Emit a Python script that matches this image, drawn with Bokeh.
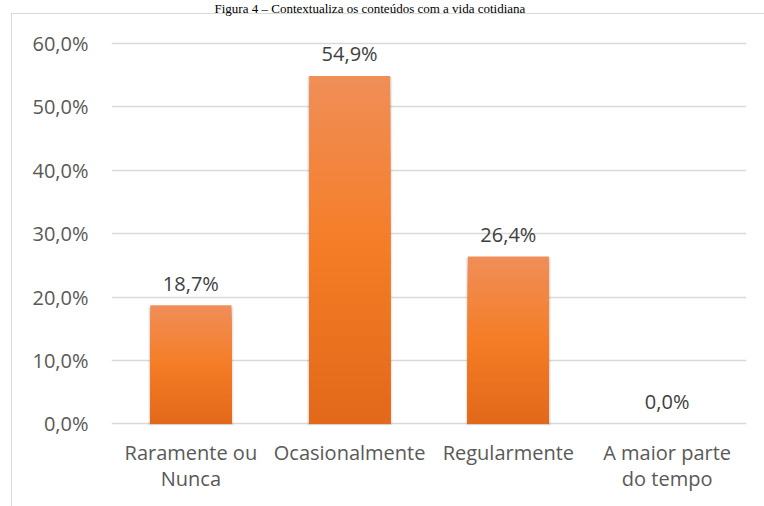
from bokeh.plotting import figure
from bokeh.models import FactorRange, Range1d, FixedTicker, ColumnDataSource, Label
from bokeh.embed import file_html
from bokeh.resources import INLINE
from bokeh.core.properties import value

# ---------------- data ----------------
title_text = "Figura 4 – Contextualiza os conteúdos com a vida cotidiana"
categories = ["Raramente ou\nNunca", "Ocasionalmente", "Regularmente", "A maior parte\ndo tempo"]
percentages = [18.7, 54.9, 26.4, 0.0]
y_ticks = [0, 10, 20, 30, 40, 50, 60]
y_tick_labels = ["0,0%", "10,0%", "20,0%", "30,0%", "40,0%", "50,0%", "60,0%"]

# ---------------- styles ----------------
FONT = "Open Sans"
AXIS_TEXT = "#595959"
LABEL_TEXT = "#404040"
GRID = "#d9d9d9"
BAR_W = 0.51
stops = [(0.0, (225, 104, 25)), (0.5, (245, 125, 38)), (1.0, (240, 142, 88))]


def grad_color(f):
    for (f0, c0), (f1, c1) in zip(stops[:-1], stops[1:]):
        if f0 <= f <= f1:
            t = (f - f0) / (f1 - f0)
            c = [round(a + (b - a) * t) for a, b in zip(c0, c1)]
            return "#%02x%02x%02x" % tuple(c)
    return "#%02x%02x%02x" % stops[-1][1]


p = figure(width=764, height=506,
           x_range=FactorRange(factors=categories),
           y_range=Range1d(-0.25, 66.79),
           output_backend="svg", toolbar_location=None,
           min_border_left=111, min_border_right=18,
           min_border_top=0, min_border_bottom=81)
p.outline_line_color = None
p.background_fill_color = None
p.border_fill_color = None
# chart-area border (left and top edges visible in the crop)
p.styles = {
    "background-color": "white",
    "background-image": "linear-gradient(#d9d9d9, #d9d9d9), linear-gradient(#d9d9d9, #d9d9d9)",
    "background-size": "1px 100%, 100% 1px",
    "background-position": "11px 13px, 11px 13px",
    "background-repeat": "no-repeat",
}

# axes
p.yaxis.ticker = FixedTicker(ticks=y_ticks)
p.yaxis.major_label_overrides = {t: l for t, l in zip(y_ticks, y_tick_labels)}
p.yaxis.axis_line_color = None
p.yaxis.major_tick_line_color = None
p.yaxis.minor_tick_line_color = None
p.yaxis.major_tick_out = 0
p.yaxis.major_tick_in = 0
p.yaxis.major_label_standoff = 23
p.yaxis.major_label_text_font = FONT
p.yaxis.major_label_text_font_size = "20px"
p.yaxis.major_label_text_color = AXIS_TEXT

p.xaxis.axis_line_color = None
p.xaxis.major_tick_line_color = None
p.xaxis.major_tick_out = 0
p.xaxis.major_tick_in = 0
p.xaxis.major_label_standoff = 13
p.xaxis.major_label_text_font = FONT
p.xaxis.major_label_text_font_size = "20px"
p.xaxis.major_label_text_color = AXIS_TEXT
p.xaxis.major_label_text_line_height = 0.99

p.xgrid.visible = False
p.ygrid.ticker = FixedTicker(ticks=y_ticks)
p.ygrid.grid_line_color = GRID
p.ygrid.grid_line_width = 1.3

# shadows
sh_x = [c for c, v in zip(categories, percentages) if v > 0]
sh_top = [v - 0.15 for v in percentages if v > 0]
p.vbar(x=sh_x, top=sh_top, bottom=-0.5, width=BAR_W + 0.028,
       fill_color="black", fill_alpha=0.06, line_color=None)
p.vbar(x=sh_x, top=sh_top, bottom=-0.3, width=BAR_W + 0.014,
       fill_color="black", fill_alpha=0.08, line_color=None)

# gradient bars: cumulative layers drawn tallest first, so no seams show
N = 40
gx, gt, gc = [], [], []
for i in reversed(range(N)):
    for c, v in zip(categories, percentages):
        if v <= 0:
            continue
        gx.append(c)
        gt.append(v * (i + 1) / N)
        gc.append(grad_color((i + 0.5) / N))
p.vbar(x=gx, bottom=0, top=gt, width=BAR_W, fill_color=gc, line_color=None)

# data labels
lab_src = ColumnDataSource(dict(
    x=categories, y=percentages,
    text=[("%.1f" % v).replace(".", ",") + "%" for v in percentages]))
p.text(x="x", y="y", text="text", source=lab_src, text_align="center",
       text_baseline="middle", y_offset=-22, text_font=value(FONT),
       text_font_size="20px", text_color=LABEL_TEXT)

# figure caption at the top (cropped in the source; shown small so it fits)
p.add_layout(Label(x=1.628, y=66.7, text=title_text, text_align="center",
                   text_baseline="top",
                   text_font="Liberation Serif", text_font_size="13px",
                   text_color="black"))

open("out.html", "w").write(file_html(p, INLINE))
